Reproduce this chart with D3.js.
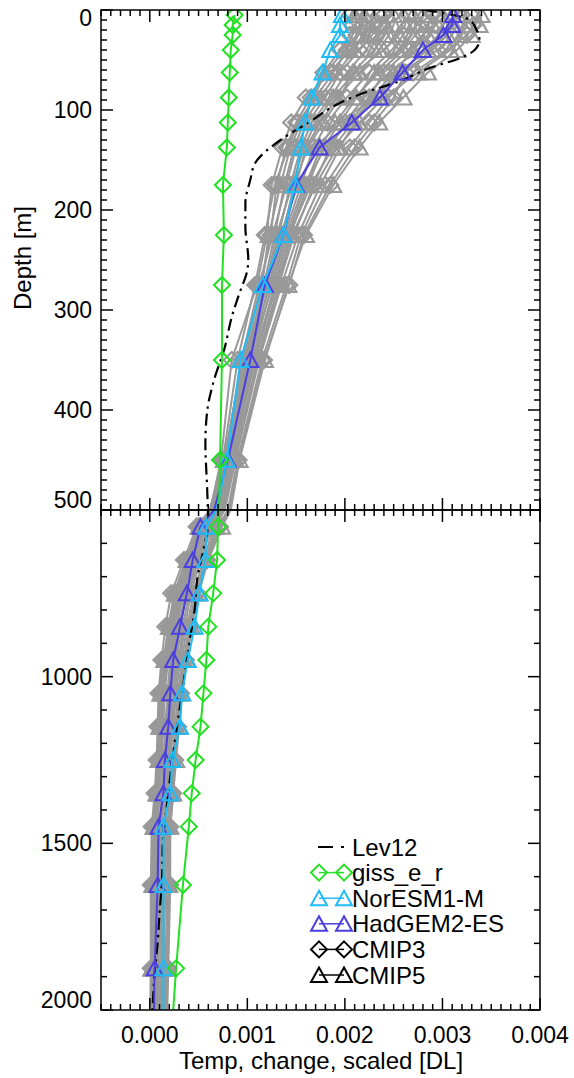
<!DOCTYPE html>
<html><head><meta charset="utf-8">
<script src="https://cdn.jsdelivr.net/npm/d3@7"></script>
<style>
body{margin:0;background:#fff}
text{font-family:"Liberation Sans",Arial,Helvetica,sans-serif;fill:#000}
</style>
</head><body><svg id="c" width="574" height="1078"></svg>
<script>
// ---- data (temperature change in units of 1e-3 DL) ----
const depths = [5,15,25,40,62.5,87.5,112.5,137.5,175,225,275,350,450,550,650,750,850,950,1050,1150,1250,1350,1450,1625,1875,2125];

const giss = [0.87,0.85,0.85,0.83,0.82,0.81,0.80,0.79,0.75,0.76,0.74,0.74,0.72,0.70,0.69,0.65,0.60,0.58,0.55,0.52,0.47,0.43,0.40,0.34,0.27,0.21];
const noresm = [1.97,1.95,1.95,1.85,1.77,1.66,1.59,1.55,1.49,1.37,1.16,0.93,0.79,0.58,0.57,0.51,0.46,0.39,0.33,0.31,0.23,0.21,0.14,0.14,0.14,0.14];
const hadgem = [3.11,3.10,3.01,2.80,2.59,2.36,2.07,1.74,1.50,1.37,1.18,1.03,0.80,0.52,0.44,0.38,0.31,0.24,0.21,0.19,0.155,0.14,0.09,0.08,0.05,0.04];

const levDepths = [0,10,20,30,40,47,58,72,83,98,110,130,153,170,193,217,250,260,283,307,337,373,400,433,483,530,620,700,800,890,990,1090,1190,1300,1400,1490,1610,1710,1800,1890,1990,2100];
const lev12 = [2.82,3.28,3.35,3.38,3.33,3.21,2.87,2.54,2.19,1.85,1.67,1.34,1.08,1.03,0.98,0.98,1.01,1.00,0.92,0.84,0.77,0.65,0.59,0.57,0.59,0.60,0.55,0.49,0.46,0.41,0.36,0.31,0.26,0.21,0.17,0.135,0.125,0.10,0.08,0.05,0.03,0.02];

const cmip3Models = [
 [3.30,3.32,3.25,3.05,2.70,2.45,2.25,2.05,1.80,1.55,1.40,1.15,0.90,0.70,0.58,0.48,0.41,0.36,0.31,0.28,0.25,0.23,0.20,0.19,0.17,0.15],
 [2.95,2.92,2.88,2.75,2.45,2.20,2.00,1.85,1.68,1.48,1.32,1.10,0.86,0.62,0.50,0.40,0.34,0.30,0.26,0.23,0.20,0.18,0.15,0.13,0.11,0.10],
 [2.65,2.66,2.60,2.48,2.25,2.02,1.82,1.68,1.55,1.38,1.25,1.05,0.83,0.58,0.45,0.33,0.27,0.22,0.19,0.17,0.15,0.13,0.11,0.09,0.08,0.07],
 [2.35,2.38,2.32,2.22,2.02,1.85,1.66,1.55,1.44,1.32,1.20,1.00,0.80,0.54,0.40,0.28,0.22,0.17,0.13,0.12,0.11,0.09,0.06,0.04,0.03,0.02],
 [2.05,2.08,2.05,1.95,1.78,1.65,1.50,1.40,1.30,1.24,1.14,0.96,0.78,0.50,0.37,0.25,0.19,0.14,0.10,0.09,0.08,0.06,0.04,0.02,0.02,0.01],
 [2.90,2.85,2.80,2.65,2.40,2.25,2.05,1.80,1.58,1.40,1.26,1.02,0.81,0.64,0.52,0.42,0.36,0.31,0.27,0.24,0.21,0.19,0.16,0.15,0.13,0.11],
 [2.40,2.35,2.28,2.15,1.95,1.80,1.62,1.50,1.40,1.26,1.12,0.94,0.77,0.53,0.41,0.31,0.25,0.21,0.18,0.16,0.14,0.12,0.10,0.08,0.07,0.06],
 [2.25,2.30,2.25,2.05,1.85,1.60,1.45,1.36,1.25,1.20,1.10,0.84,0.73,0.51,0.39,0.27,0.21,0.16,0.12,0.11,0.10,0.08,0.05,0.03,0.03,0.02],
 [3.20,3.15,3.10,2.95,2.62,2.50,2.30,2.10,1.85,1.58,1.43,1.17,0.91,0.72,0.59,0.49,0.42,0.37,0.32,0.29,0.26,0.24,0.21,0.21,0.19,0.17],
 [2.15,2.18,2.12,2.02,1.88,1.70,1.52,1.42,1.28,1.18,1.08,0.90,0.75,0.48,0.35,0.22,0.16,0.12,0.09,0.08,0.07,0.05,0.02,0.01,0.01,0.00]
];
const cmip5Models = [
 [3.40,3.38,3.30,3.15,2.85,2.60,2.35,2.15,1.88,1.60,1.42,1.18,0.92,0.74,0.60,0.50,0.43,0.38,0.33,0.30,0.27,0.24,0.21,0.20,0.18,0.16],
 [3.10,3.12,3.05,2.90,2.60,2.30,2.10,1.95,1.75,1.52,1.35,1.12,0.88,0.66,0.55,0.45,0.38,0.33,0.29,0.26,0.23,0.21,0.18,0.16,0.14,0.12],
 [2.80,2.78,2.72,2.60,2.35,2.10,1.90,1.75,1.60,1.42,1.28,1.07,0.85,0.60,0.47,0.36,0.30,0.26,0.22,0.20,0.17,0.15,0.12,0.10,0.09,0.08],
 [2.50,2.50,2.45,2.35,2.15,1.92,1.75,1.60,1.50,1.35,1.22,1.03,0.82,0.56,0.42,0.30,0.24,0.19,0.15,0.14,0.12,0.10,0.08,0.06,0.05,0.04],
 [2.20,2.22,2.18,2.10,1.92,1.75,1.58,1.48,1.38,1.28,1.17,0.98,0.79,0.52,0.38,0.26,0.20,0.15,0.11,0.10,0.09,0.07,0.04,0.03,0.02,0.01],
 [3.20,3.25,3.20,3.08,2.75,2.40,2.15,1.92,1.70,1.46,1.30,1.08,0.84,0.68,0.57,0.47,0.40,0.35,0.30,0.27,0.24,0.22,0.19,0.18,0.16,0.14],
 [2.60,2.62,2.55,2.40,2.10,1.88,1.70,1.58,1.46,1.30,1.19,0.99,0.80,0.57,0.44,0.34,0.28,0.24,0.20,0.18,0.16,0.14,0.12,0.10,0.09,0.08],
 [3.00,3.05,3.00,2.85,2.55,2.30,1.95,1.70,1.52,1.34,1.18,0.97,0.79,0.55,0.43,0.32,0.26,0.23,0.20,0.19,0.18,0.17,0.15,0.14,0.13,0.12],
 [2.70,2.72,2.68,2.55,2.30,2.12,1.95,1.78,1.62,1.44,1.33,1.11,0.87,0.63,0.49,0.38,0.31,0.27,0.23,0.21,0.19,0.17,0.14,0.12,0.11,0.10],
 [2.10,2.15,2.12,2.00,1.80,1.68,1.55,1.44,1.34,1.22,1.15,0.95,0.76,0.50,0.38,0.26,0.20,0.16,0.12,0.11,0.10,0.08,0.05,0.03,0.02,0.01],
 [2.85,2.90,2.85,2.70,2.50,2.28,2.08,1.88,1.65,1.43,1.29,1.06,0.84,0.61,0.48,0.37,0.32,0.28,0.25,0.22,0.20,0.18,0.16,0.15,0.14,0.13],
 [2.45,2.42,2.40,2.30,2.08,1.95,1.78,1.62,1.48,1.36,1.23,1.01,0.81,0.55,0.41,0.29,0.23,0.18,0.14,0.13,0.12,0.10,0.07,0.05,0.04,0.03]
];

const xTickValues = [0,1,2,3,4];
const yTopTickValues = [0,100,200,300,400,500];
const yBotTickValues = [1000,1500,2000];
const legendLabels = ["Lev12","giss_e_r","NorESM1-M","HadGEM2-ES","CMIP3","CMIP5"];

// ---- layout ----
const L=101,R=540,T=10,M=510,B=1010;
const GREEN="#22e022", LBLUE="#1fbcf5", BLUE="#4a3ee0", GRAY="#999999";
const svg=d3.select("#c");
svg.append("rect").attr("width",574).attr("height",1078).attr("fill","#fff");

const x=d3.scaleLinear().domain([-0.5,4.0]).range([L,R]);
const panels=[
  {id:"top", y:d3.scaleLinear().domain([0,500]).range([T,M]), y0:T, y1:M, minor:10, major:100},
  {id:"bot", y:d3.scaleLinear().domain([500,2000]).range([M,B]), y0:M, y1:B, minor:100, major:500}
];

const diamond="M0,-8L8,0L0,8L-8,0Z";
const triangle="M0,-7.5L8,7L-8,7Z";
const defs=svg.append("defs");

function series(g,y,vals,dps,color,sym,lw,mw){
  const pts=vals.map((v,i)=>[x(v),y(dps[i])]);
  g.append("path").attr("d",d3.line()(pts)).attr("fill","none").attr("stroke",color).attr("stroke-width",lw);
  if(sym) g.selectAll(null).data(pts).enter().append("path").attr("d",sym)
    .attr("transform",d=>`translate(${d[0]},${d[1]})`).attr("fill","none").attr("stroke",color).attr("stroke-width",mw||2);
}

panels.forEach(p=>{
  defs.append("clipPath").attr("id","clip-"+p.id).append("rect")
    .attr("x",L).attr("y",p.y0).attr("width",R-L).attr("height",p.y1-p.y0);
  const g=svg.append("g").attr("clip-path",`url(#clip-${p.id})`);
  cmip3Models.forEach(m=>series(g,p.y,m,depths,GRAY,diamond,2,2.2));
  cmip5Models.forEach(m=>series(g,p.y,m,depths,GRAY,triangle,2,2.2));
  const lp=lev12.map((v,i)=>[x(v),p.y(levDepths[i])]);
  g.append("path").attr("d",d3.line().curve(d3.curveMonotoneY)(lp)).attr("fill","none")
    .attr("stroke","#000").attr("stroke-width",2.2).attr("stroke-dasharray","12,5,2.5,5");
  series(g,p.y,hadgem,depths,BLUE,triangle,2);
  series(g,p.y,noresm,depths,LBLUE,triangle,2);
  series(g,p.y,giss,depths,GREEN,diamond,2);

  // frame and ticks
  const a=svg.append("g").attr("stroke","#000").attr("stroke-width",1.5);
  a.append("rect").attr("x",L).attr("y",p.y0).attr("width",R-L).attr("height",p.y1-p.y0).attr("fill","none");
  const d0=p.y.domain()[0], d1=p.y.domain()[1];
  d3.range(d0,d1+0.001,p.minor).forEach(d=>{
    const len=(Math.abs(d%p.major)<1e-6)?12:6, yy=p.y(d);
    a.append("line").attr("x1",L).attr("x2",L+len).attr("y1",yy).attr("y2",yy);
    a.append("line").attr("x1",R).attr("x2",R-len).attr("y1",yy).attr("y2",yy);
  });
  d3.range(-5,41).forEach(k=>{
    const len=(k%10===0)?12:6, xx=x(k/10);
    a.append("line").attr("x1",xx).attr("x2",xx).attr("y1",p.y0).attr("y2",p.y0+len);
    a.append("line").attr("x1",xx).attr("x2",xx).attr("y1",p.y1).attr("y2",p.y1-len);
  });
});

// y tick labels (IDL keeps edge labels inside the panel)
function yLabels(p,vals){
  vals.forEach(v=>{
    const c=Math.min(Math.max(p.y(v),p.y0+8),p.y1-10);
    svg.append("text").attr("x",92).attr("y",c+8).attr("text-anchor","end")
      .attr("font-size",23).text(v);
  });
}
yLabels(panels[0],yTopTickValues);
yLabels(panels[1],yBotTickValues);
xTickValues.forEach(v=>{
  svg.append("text").attr("x",x(v)).attr("y",1043).attr("text-anchor","middle")
    .attr("font-size",23).text(d3.format(".3f")(v/1000));
});
svg.append("text").attr("transform","translate(31,258) rotate(-90)").attr("text-anchor","middle")
  .attr("font-size",24).text("Depth [m]");
svg.append("text").attr("x",321).attr("y",1069).attr("text-anchor","middle")
  .attr("font-size",24).text("Temp, change, scaled [DL]");

// legend
const legColors=["#000",GREEN,LBLUE,BLUE,"#000","#000"];
const legSyms=[null,diamond,triangle,triangle,diamond,triangle];
const lg=svg.append("g");
legendLabels.forEach((lab,i)=>{
  const cy=847+i*25.6;
  if(i===0){
    lg.append("line").attr("x1",318).attr("x2",333).attr("y1",cy).attr("y2",cy).attr("stroke","#000").attr("stroke-width",2);
    lg.append("line").attr("x1",341).attr("x2",344).attr("y1",cy).attr("y2",cy).attr("stroke","#000").attr("stroke-width",2);
  } else {
    lg.append("line").attr("x1",319).attr("x2",344).attr("y1",cy).attr("y2",cy).attr("stroke",legColors[i]).attr("stroke-width",1.5);
    [319,344].forEach(px=>lg.append("path").attr("d",legSyms[i]).attr("transform",`translate(${px},${cy})`)
      .attr("fill","none").attr("stroke",legColors[i]).attr("stroke-width",2));
  }
  lg.append("text").attr("x",352).attr("y",cy+8.5).attr("font-size",24).text(lab);
});
</script></body></html>
